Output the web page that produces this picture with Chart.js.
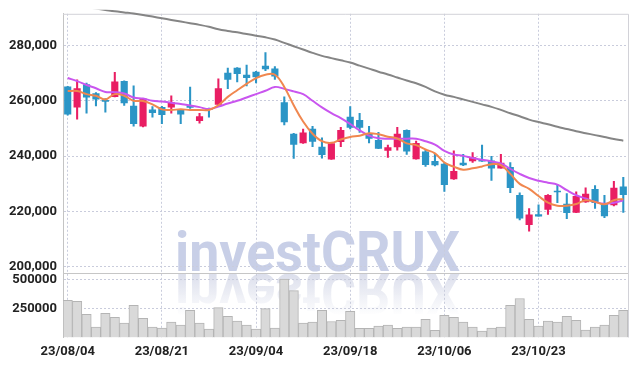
<!DOCTYPE html>
<html lang="ko">
<head>
<meta charset="UTF-8">
<title>investCRUX 일봉 차트</title>
<script src="https://cdn.jsdelivr.net/npm/chart.js@4.4.1/dist/chart.umd.min.js"></script>
<style>
  html, body { margin: 0; padding: 0; background: #fff; }
  #wrap { width: 637px; height: 366px; }
</style>
</head>
<body>
<div id="wrap"><canvas id="chart"></canvas></div>
<script>
// 일자 (거래일)
const dates = [
  '23/08/04','23/08/07','23/08/08','23/08/09','23/08/10','23/08/11','23/08/14','23/08/16','23/08/17','23/08/18',
  '23/08/21','23/08/22','23/08/23','23/08/24','23/08/25','23/08/28','23/08/29','23/08/30','23/08/31','23/09/01',
  '23/09/04','23/09/05','23/09/06','23/09/07','23/09/08','23/09/11','23/09/12','23/09/13','23/09/14','23/09/15',
  '23/09/18','23/09/19','23/09/20','23/09/21','23/09/22','23/09/25','23/09/26','23/09/27','23/10/04','23/10/05',
  '23/10/06','23/10/10','23/10/11','23/10/12','23/10/13','23/10/16','23/10/17','23/10/18','23/10/19','23/10/20',
  '23/10/23','23/10/24','23/10/25','23/10/26','23/10/27','23/10/30','23/10/31','23/11/01','23/11/02','23/11/03'
];

const openP = [
  265000, 257700, 265800, 262600, 260200, 261500, 267000, 258100, 250800, 256700,
  257600, 257700, 256700, 258100, 252800, 257300, 258700, 270000, 271800, 269300,
  270400, 272500, 271500, 259300, 248000, 244800, 249800, 243300, 238900, 245200,
  254100, 252900, 248100, 245700, 242100, 243300, 249300, 239000, 241600, 238100,
  237100, 231800, 237500, 238300, 238500, 238300, 235700, 236000, 225900, 215300,
  218900, 220800, 227400, 222700, 219700, 223500, 228000, 222900, 222400, 228900
];
const highP = [
  265200, 267600, 266400, 263000, 260800, 270300, 267200, 265400, 260900, 257900,
  258000, 261800, 256900, 264900, 255500, 257400, 267900, 271800, 272000, 272900,
  270600, 277400, 272300, 261400, 248200, 249800, 250800, 246600, 244700, 250400,
  257900, 255500, 250800, 248600, 244000, 250400, 249500, 245400, 242200, 240900,
  237700, 241900, 240700, 241300, 244000, 239900, 240700, 237700, 226800, 221100,
  222400, 226100, 229700, 226500, 227100, 228600, 229400, 225900, 230900, 232400
];
const lowP = [
  254800, 253400, 255500, 258100, 255900, 261400, 258300, 250800, 250600, 254100,
  251700, 255500, 251700, 257200, 251900, 254100, 258000, 264400, 266800, 265400,
  266400, 270900, 267700, 251300, 239200, 244600, 243400, 239300, 238800, 243400,
  249800, 248600, 244800, 242700, 239500, 242200, 240600, 238900, 236300, 236500,
  227300, 231600, 236600, 237700, 238100, 231200, 235700, 226800, 217000, 212900,
  218300, 219000, 223200, 217400, 219600, 223300, 221100, 217800, 222000, 219700
];
const closeP = [
  255200, 264400, 261300, 260600, 259800, 266800, 259200, 251700, 260700, 255700,
  255000, 259300, 255200, 257600, 254300, 256800, 264400, 267700, 269800, 268300,
  268600, 271500, 268900, 252400, 244200, 248400, 245300, 240500, 244500, 249300,
  250400, 250400, 246400, 242800, 243100, 248000, 241800, 244600, 236900, 236800,
  229700, 234500, 236800, 239500, 238200, 235700, 237500, 228600, 217600, 218800,
  218300, 225900, 227100, 219600, 225500, 226300, 223200, 218400, 228500, 226100
];

// 이동평균선
const ma5 = [
  263500, 263500, 262400, 261800, 260500, 262400, 261800, 260000, 259900, 258700,
  256900, 256700, 256900, 256700, 256700, 256700, 258400, 261400, 263800, 266100,
  268200, 269400, 269400, 265000, 258400, 252500, 248100, 245400, 244800, 246000,
  246900, 247400, 248300, 247900, 247000, 246400, 244600, 244000, 242400, 241000,
  237700, 236200, 235100, 235600, 236300, 237100, 236800, 233600, 230000, 228200,
  225600, 223200, 222100, 222100, 222700, 224100, 223500, 222600, 224100, 224500
];
const ma20 = [
  268200, 267100, 265700, 264500, 263200, 263100, 262600, 261200, 260800, 260000,
  259700, 259300, 258800, 258300, 257700, 257000, 257900, 259000, 260000, 261200,
  262400, 263600, 265000, 264300, 263400, 262400, 260000, 257600, 255500, 253700,
  251600, 249300, 247400, 246500, 246300, 246300, 246300, 246300, 245400, 244200,
  241900, 240600, 240100, 239300, 238700, 238100, 237400, 235400, 233600, 232100,
  231100, 230400, 229700, 227700, 225900, 224700, 223500, 222800, 223200, 224100
];
const ma60 = [
  294800, 294300, 293800, 293300, 292800, 292300, 291900, 291500, 291000, 290400,
  289800, 289200, 288600, 288000, 287400, 286700, 285800, 285200, 284700, 284100,
  283500, 282900, 282100, 280900, 279700, 278500, 277300, 276200, 275400, 274600,
  273800, 272700, 271600, 270500, 269500, 268400, 267300, 266300, 265000, 263400,
  262200, 261400, 260500, 259600, 258700, 257800, 256700, 255500, 254400, 253200,
  252300, 251500, 250600, 249800, 249000, 248300, 247600, 246900, 246200, 245600
];

const volume = [
  320500, 312000, 200900, 89700, 209400, 175200, 123900, 277800, 166700, 89700,
  81200, 132500, 106800, 235000, 123900, 72600, 258100, 183800, 141000, 106800,
  72600, 249600, 81200, 506000, 406000, 123900, 132500, 235000, 138500, 149600,
  226500, 78600, 78600, 98300, 106800, 78600, 89700, 89700, 158100, 61500,
  192300, 175200, 132500, 89700, 55600, 81200, 89700, 277800, 337600, 158100,
  98300, 141000, 132500, 183800, 149600, 64100, 89700, 106800, 192300, 235000
];

const priceTicks = [200000, 220000, 240000, 260000, 280000];
const volTicks = [250000, 500000];

const UP = '#e91e63';
const DOWN = '#2b95c6';
const GRID = '#c9ccdc';
const candleColors = closeP.map((c, i) => c >= openP[i] ? UP : DOWN);
const tickFont = { family: 'Roboto', weight: 'bold', size: 13 };

// 워터마크 + 반사
const watermark = {
  id: 'watermark',
  beforeDraw(chart) {
    const ctx = chart.ctx;
    const left = 175, width = 285, base = 271;
    ctx.save();
    ctx.font = 'bold 56px Roboto';
    ctx.textAlign = 'left';
    ctx.textBaseline = 'alphabetic';
    const sx = width / ctx.measureText('investCRUX').width;
    ctx.translate(left, 0);
    ctx.scale(sx, 1);
    ctx.fillStyle = 'rgb(200,207,231)';
    ctx.fillText('investCRUX', 0, base);
    ctx.translate(0, 2 * base + 3);
    ctx.scale(1, -1);
    const g = ctx.createLinearGradient(0, base, 0, base - 42);
    g.addColorStop(0, 'rgba(220,223,236,1)');
    g.addColorStop(1, 'rgba(220,223,236,0)');
    ctx.fillStyle = g;
    ctx.fillText('investCRUX', 0, base);
    ctx.restore();
  }
};

const frame = {
  id: 'frame',
  beforeDatasetsDraw(chart) {
    const { ctx, chartArea: a } = chart;
    const sep = chart.scales.yv.top;
    ctx.save();
    ctx.lineWidth = 1;
    ctx.strokeStyle = '#d2d2d8';
    ctx.beginPath();
    ctx.moveTo(a.left, a.top + 0.5);
    ctx.lineTo(a.right + 0.5, a.top + 0.5);
    ctx.lineTo(a.right + 0.5, a.bottom);
    ctx.stroke();
    ctx.strokeStyle = '#c6c6c6';
    ctx.beginPath();
    ctx.moveTo(a.left, Math.round(sep) + 0.5);
    ctx.lineTo(a.right, Math.round(sep) + 0.5);
    ctx.stroke();
    ctx.restore();
  }
};

new Chart(document.getElementById('chart'), {
  type: 'bar',
  data: {
    labels: dates,
    datasets: [
      {
        type: 'line', label: 'MA5', data: ma5, yAxisID: 'y', order: 0,
        borderColor: '#f0874f', borderWidth: 2, pointRadius: 0, tension: 0.4
      },
      {
        type: 'line', label: 'MA20', data: ma20, yAxisID: 'y', order: 1,
        borderColor: '#c955ef', borderWidth: 2, pointRadius: 0, tension: 0.4
      },
      {
        type: 'line', label: 'MA60', data: ma60, yAxisID: 'y', order: 2,
        borderColor: '#858585', borderWidth: 2, pointRadius: 0, tension: 0.4,
        clip: { left: 0, top: 4, right: 0, bottom: 0 }
      },
      {
        label: '몸통', data: openP.map((o, i) => [o, closeP[i]]), yAxisID: 'y', order: 3,
        backgroundColor: candleColors, barThickness: 6.5, grouped: false, borderWidth: 0
      },
      {
        label: '꼬리', data: lowP.map((l, i) => [l, highP[i]]), yAxisID: 'y', order: 4,
        backgroundColor: candleColors, barThickness: 1.4, grouped: false, borderWidth: 0
      },
      {
        label: '거래량', data: volume, yAxisID: 'yv', order: 5,
        backgroundColor: '#d9d9d9', borderColor: '#b4b4b4', borderWidth: 1,
        barPercentage: 1, categoryPercentage: 1, grouped: false
      }
    ]
  },
  options: {
    responsive: true,
    maintainAspectRatio: false,
    animation: false,
    layout: { padding: { top: 9, right: 9, left: 0, bottom: 0 } },
    plugins: { legend: { display: false }, tooltip: { enabled: false } },
    scales: {
      x: {
        offset: true,
        grid: {
          offset: false, drawTicks: false,
          color: c => c.index % 10 === 0 ? GRID : 'transparent'
        },
        border: { display: false, dash: [2, 2] },
        ticks: {
          autoSkip: false, maxRotation: 0, padding: 6, font: tickFont, color: '#222',
          callback: (v, i) => i % 10 === 0 ? dates[i] : ''
        },
        afterFit: s => { s.height = 28.5; }
      },
      y: {
        stack: 'main', stackWeight: 4, weight: 2, position: 'left',
        min: 197900, max: 291400,
        afterBuildTicks: s => { s.ticks = priceTicks.map(v => ({ value: v })); },
        grid: { color: GRID, drawTicks: false },
        border: { color: '#c4c4c4', dash: [2, 2] },
        ticks: { padding: 6, font: tickFont, color: '#222', callback: v => v.toLocaleString('en-US') },
        afterFit: s => { s.width = 63; }
      },
      yv: {
        stack: 'main', stackWeight: 1, weight: 1, position: 'left',
        min: 0, max: 560000, offset: false,
        afterBuildTicks: s => { s.ticks = volTicks.map(v => ({ value: v })); },
        grid: { color: GRID, drawTicks: false },
        border: { color: '#c4c4c4', dash: [2, 2] },
        ticks: { padding: 6, font: tickFont, color: '#222', callback: v => String(v) },
        afterFit: s => { s.width = 63; }
      }
    }
  },
  plugins: [watermark, frame]
});
</script>
</body>
</html>
